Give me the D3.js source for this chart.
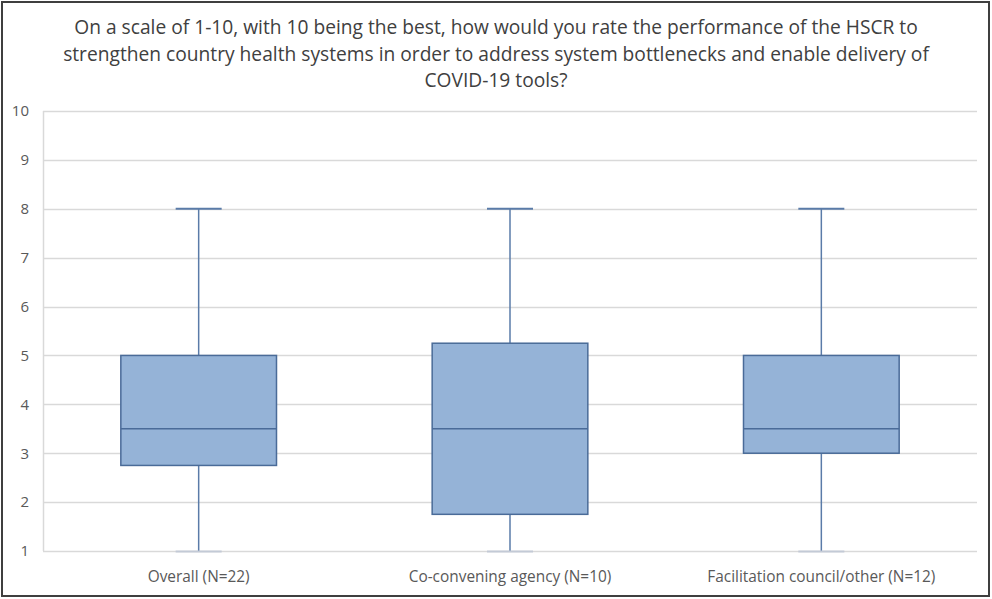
<!DOCTYPE html>
<html>
<head>
<meta charset="utf-8">
<script src="https://cdn.jsdelivr.net/npm/d3@7"></script>
<style>
  body { margin: 0; background: #fff; }
  text { font-family: "Open Sans", "Noto Sans", sans-serif; }
</style>
</head>
<body>
<div id="chart"></div>
<script>
// data
var categories = ["Overall (N=22)", "Co-convening agency (N=10)", "Facilitation council/other (N=12)"];
var mins = [1, 1, 1];
var q1s = [2.75, 1.75, 3];
var medians = [3.5, 3.5, 3.5];
var q3s = [5, 5.25, 5];
var maxs = [8, 8, 8];
var yTicks = [1, 2, 3, 4, 5, 6, 7, 8, 9, 10];
var titleLines = [
  "On a scale of 1-10, with 10 being the best, how would you rate the performance of the HSCR to",
  "strengthen country health systems in order to address system bottlenecks and enable delivery of",
  "COVID-19 tools?"
];

var width = 992, height = 599;
var margin = { top: 111, right: 15, bottom: 48, left: 43 };

var boxes = categories.map(function (c, i) {
  return { cat: c, min: mins[i], q1: q1s[i], med: medians[i], q3: q3s[i], max: maxs[i] };
});

var svg = d3.select("#chart").append("svg")
  .attr("width", width)
  .attr("height", height);

// outer frame
svg.append("rect")
  .attr("x", 2).attr("y", 2)
  .attr("width", 987).attr("height", 594)
  .attr("fill", "#fff")
  .attr("stroke", "#3f3f3f")
  .attr("stroke-width", 2);

svg.append("g")
  .selectAll("text")
  .data(titleLines)
  .enter()
  .append("text")
  .attr("x", 496)
  .attr("y", function (d, i) { return 34 + i * 26.5; })
  .attr("text-anchor", "middle")
  .attr("font-size", 19.2)
  .attr("fill", "#404040")
  .text(function (d) { return d; });

var x = d3.scaleBand()
  .domain(categories)
  .range([margin.left, width - margin.right]);

var y = d3.scaleLinear()
  .domain([1, 10])
  .range([height - margin.bottom, margin.top]);

// gridlines
svg.append("g")
  .selectAll("line")
  .data(yTicks)
  .enter()
  .append("line")
  .attr("x1", margin.left)
  .attr("x2", width - margin.right)
  .attr("y1", function (d) { return Math.round(y(d)) + 0.5; })
  .attr("y2", function (d) { return Math.round(y(d)) + 0.5; })
  .attr("stroke", "#d9d9d9")
  .attr("stroke-width", 1.5);

svg.append("line")
  .attr("x1", margin.left + 0.5).attr("x2", margin.left + 0.5)
  .attr("y1", y(10)).attr("y2", y(1))
  .attr("stroke", "#d9d9d9")
  .attr("stroke-width", 1.5);

var yAxis = svg.append("g")
  .attr("transform", "translate(" + margin.left + ",0)")
  .call(d3.axisLeft(y).tickValues(yTicks).tickSize(0).tickPadding(14));
yAxis.select(".domain").remove();
yAxis.selectAll("text")
  .attr("font-size", 15)
  .attr("fill", "#595959")
  .style("font-family", "'Open Sans', sans-serif");

var xAxis = svg.append("g")
  .attr("transform", "translate(0," + y(1) + ")")
  .call(d3.axisBottom(x).tickSize(0).tickPadding(20));
xAxis.select(".domain").remove();
xAxis.selectAll("text")
  .attr("font-size", 15.4)
  .attr("fill", "#595959")
  .style("font-family", "'Open Sans', sans-serif");

var boxW = x.bandwidth() * 0.5;
var capW = 46;
var stroke = "#4a6b98";

var g = svg.append("g")
  .selectAll(".box")
  .data(boxes)
  .enter()
  .append("g")
  .attr("class", "box")
  .attr("transform", function (d) { return "translate(" + (x(d.cat) + x.bandwidth() / 2) + ",0)"; });

// whiskers
g.append("line")
  .attr("x1", 0).attr("x2", 0)
  .attr("y1", function (d) { return y(d.max); })
  .attr("y2", function (d) { return y(d.q3); })
  .attr("stroke", "#5a7ba8").attr("stroke-width", 1.5);
g.append("line")
  .attr("x1", 0).attr("x2", 0)
  .attr("y1", function (d) { return y(d.q1); })
  .attr("y2", function (d) { return y(d.min); })
  .attr("stroke", "#5a7ba8").attr("stroke-width", 1.5);

// caps
g.append("line")
  .attr("x1", -capW / 2).attr("x2", capW / 2)
  .attr("y1", function (d) { return y(d.max); })
  .attr("y2", function (d) { return y(d.max); })
  .attr("stroke", "#5a7ba8").attr("stroke-width", 2);
g.append("line")
  .attr("x1", -capW / 2).attr("x2", capW / 2)
  .attr("y1", function (d) { return y(d.min) + 0.5; })
  .attr("y2", function (d) { return y(d.min) + 0.5; })
  .attr("stroke", "#c3cad6").attr("stroke-width", 2);

// box
g.append("rect")
  .attr("x", -boxW / 2)
  .attr("width", boxW)
  .attr("y", function (d) { return y(d.q3); })
  .attr("height", function (d) { return y(d.q1) - y(d.q3); })
  .attr("fill", "#95b3d7")
  .attr("stroke", stroke)
  .attr("stroke-width", 1.5);

g.append("line")
  .attr("x1", -boxW / 2).attr("x2", boxW / 2)
  .attr("y1", function (d) { return y(d.med); })
  .attr("y2", function (d) { return y(d.med); })
  .attr("stroke", stroke)
  .attr("stroke-width", 1.5);
</script>
</body>
</html>
